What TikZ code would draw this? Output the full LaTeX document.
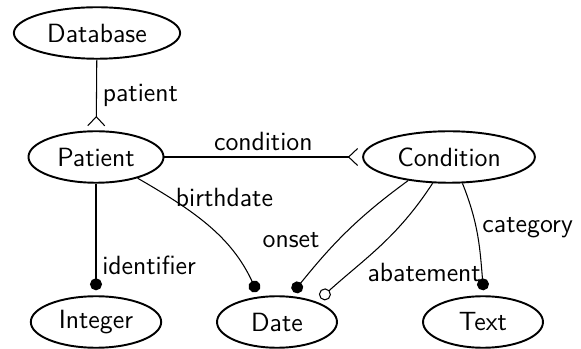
\documentclass[tikz,border=0pt]{standalone}
\usepackage{tikz}
\usetikzlibrary{shapes.geometric,arrows.meta}
\begin{document}
\begin{tikzpicture}[x=0.02cm,y=0.02cm,
  entity/.style={draw,ellipse,line width=1.1pt,inner xsep=0.18cm,inner ysep=0.1cm,minimum width=2.4cm,minimum height=1.03cm,font=\fontsize{15}{18}\sffamily},
  link/.style={semithick},
  lbl/.style={font=\fontsize{15}{18}\sffamily},
  many/.style={-{Straight Barb[reversed,length=0.18cm,width=0.34cm]},shorten >=0.08cm},
  one/.style={-{Circle[length=0.24cm]},shorten >=0.1cm},
  opt/.style={-{Circle[open,length=0.24cm]},shorten >=0.1cm}]
\useasboundingbox (0,0) rectangle (581,348);
\node[entity] (database) at (97,315) {Database};
\node[entity] (patient) at (96,191) {Patient};
\node[entity] (condition) at (449,191) {Condition};
\node[entity] (integer) at (96,26) {Integer};
\node[entity] (date) at (277,26) {Date};
\node[entity] (text) at (483,26) {Text};
\draw[link,many] (database) -- node[lbl,right] {patient} (patient);
\draw[link,many] (patient) -- node[lbl,above] {condition} (condition);
\draw[link,one] (patient) -- node[lbl,right,pos=0.73] {identifier} (integer);
\draw[link,one] (patient.-27) to[out=-30,in=115] node[lbl,pos=0.2,anchor=west] {birthdate} (date.125);
\draw[link,one] (condition.210) to[out=216,in=51] node[lbl,pos=0.68,anchor=south east] {onset} (date.63);
\draw[link,opt] (condition.238) to[out=237,in=42] node[lbl,pos=0.75,right=0.22cm] {abatement} (date.27);
\draw[link,one] (condition.-63) to[out=-68,in=95] node[lbl,pos=0.4,anchor=west] {category} (text.88);
\end{tikzpicture}
\end{document}
